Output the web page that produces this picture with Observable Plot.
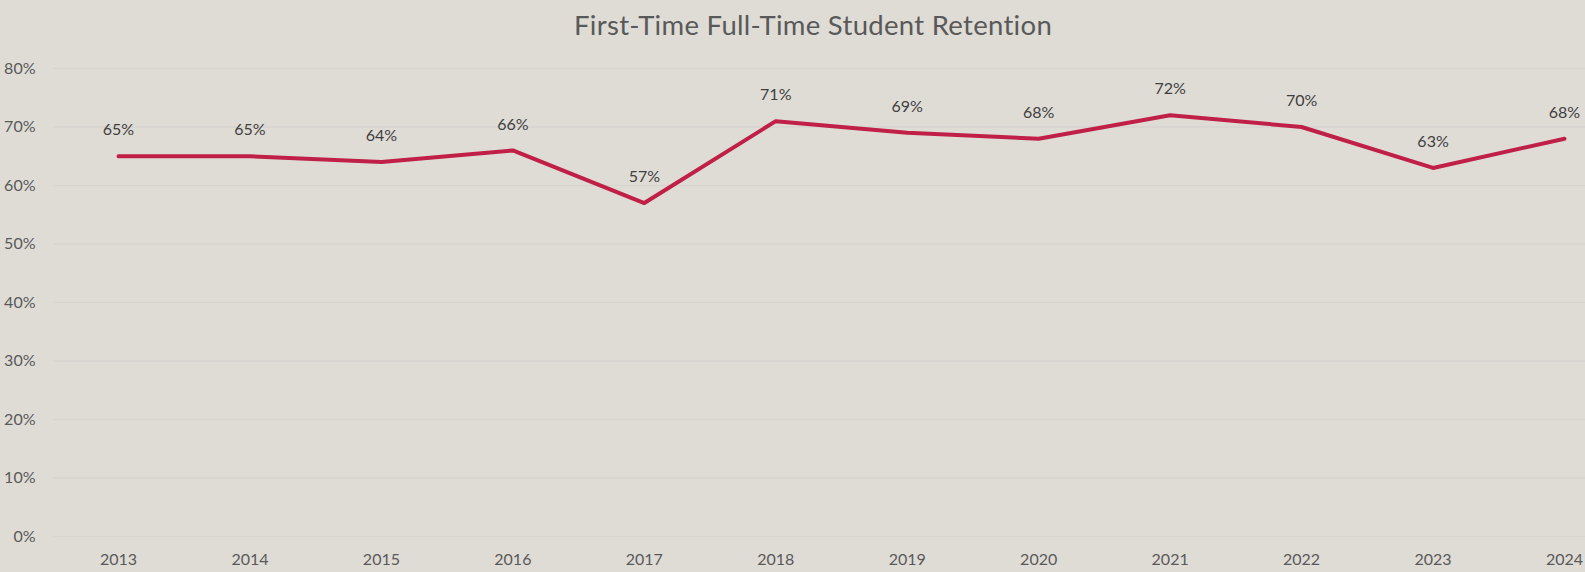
<!DOCTYPE html>
<html>
<head>
<meta charset="utf-8">
<script src="https://cdn.jsdelivr.net/npm/d3@7"></script>
<script src="https://cdn.jsdelivr.net/npm/@observablehq/plot@0.6"></script>
<style>
  html, body { margin: 0; padding: 0; background: #dfdcd6; }
  #title { height: 50px; line-height: 50px; font-family: Lato, "Open Sans", sans-serif; font-size: 27.5px; color: #595959; text-align: left; padding-left: 574px; box-sizing: border-box; width: 1585px; letter-spacing: 0.3px; }
  #chart svg { display: block; }
</style>
</head>
<body>
<div id="title">First-Time Full-Time Student Retention</div>
<div id="chart"></div>
<script>
const years = [2013, 2014, 2015, 2016, 2017, 2018, 2019, 2020, 2021, 2022, 2023, 2024];
const retention = [65, 65, 64, 66, 57, 71, 69, 68, 72, 70, 63, 68];
const yTicks = [0, 10, 20, 30, 40, 50, 60, 70, 80];

const data = years.map((y, i) => ({year: y, value: retention[i]}));

const chart = Plot.plot({
  width: 1585,
  height: 522,
  marginTop: 18,
  marginBottom: 36,
  marginLeft: 53,
  marginRight: 0,
  style: {background: "transparent", fontFamily: "Lato, 'Open Sans', sans-serif", fontSize: "16px", color: "#595959"},
  x: {domain: [2013, 2024], range: [118, 1564], ticks: years, tickFormat: d => String(d), tickSize: 0, tickPadding: 17, label: null},
  y: {domain: [0, 80], ticks: yTicks, tickFormat: d => d + "%", tickSize: 0, tickPadding: 18, label: null},
  marks: [
    Plot.ruleY(yTicks, {stroke: "#d7d5d0", strokeWidth: 1.5}),
    Plot.line(data, {x: "year", y: "value", stroke: "#c01f48", strokeWidth: 4, strokeLinejoin: "round", strokeLinecap: "round"}),
    Plot.text(data, {x: "year", y: "value", text: d => d.value + "%", dy: -26, fill: "#404040", fontSize: 16})
  ]
});
document.getElementById("chart").append(chart);
</script>
</body>
</html>
